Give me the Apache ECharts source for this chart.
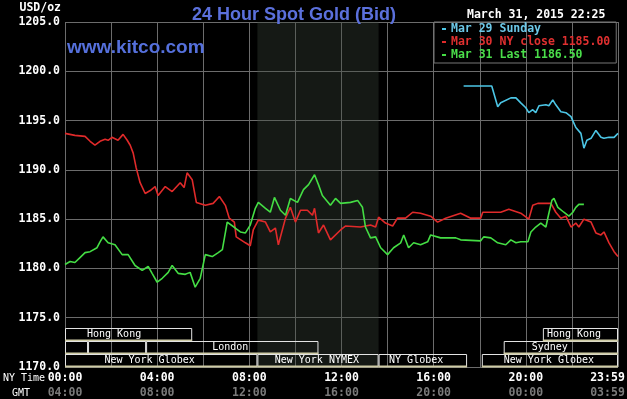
<!DOCTYPE html>
<html><head><meta charset="utf-8">
<script src="https://cdn.jsdelivr.net/npm/echarts@6/dist/echarts.min.js"></script>
<style>html,body{margin:0;padding:0;background:#000;}#c{width:627px;height:399px;}</style>
</head><body><div id="c"></div>
<script>
// Time in hours (NY time), values in USD/oz
const mar29T = [17.30,18.52,18.78,18.91,19.35,19.57,19.78,20.00,20.13,20.30,20.43,20.57,20.87,21.00,21.17,21.30,21.52,21.74,21.96,22.17,22.39,22.52,22.65,22.83,23.04,23.26,23.39,23.61,23.83,24.00];
const mar29V = [1198.5,1198.5,1196.4,1196.8,1197.3,1197.3,1196.8,1196.3,1195.8,1196.1,1195.8,1196.5,1196.6,1196.5,1197.1,1196.6,1195.9,1195.8,1195.4,1194.3,1193.7,1192.2,1193.0,1193.2,1194.0,1193.3,1193.2,1193.3,1193.3,1193.7];

const mar30T = [0,0.43,0.87,1.09,1.30,1.52,1.74,1.87,2.04,2.30,2.52,2.70,2.83,2.96,3.09,3.26,3.48,3.70,3.91,4.04,4.35,4.65,5.00,5.17,5.30,5.52,5.70,6.09,6.43,6.70,6.96,7.13,7.35,7.43,7.83,8.04,8.17,8.39,8.70,8.91,9.13,9.26,9.57,9.78,10.00,10.22,10.52,10.74,10.83,11.00,11.22,11.52,11.96,12.17,12.83,13.26,13.48,13.61,13.91,14.22,14.43,14.78,15.09,15.43,15.87,16.17,16.52,17.17,17.61,18.04,18.13,18.91,19.26,19.78,20.13,20.30,20.52,21.09,21.30,21.52,21.74,21.96,22.17,22.30,22.52,22.83,23.04,23.26,23.39,23.61,23.83,24.00];
const mar30V = [1193.7,1193.5,1193.4,1192.9,1192.5,1192.9,1193.1,1193.0,1193.3,1193.0,1193.6,1193.0,1192.5,1191.7,1190.2,1188.7,1187.6,1187.9,1188.3,1187.4,1188.3,1187.8,1188.7,1188.2,1189.7,1189.0,1186.7,1186.4,1186.6,1187.3,1186.4,1185.1,1184.7,1183.2,1182.6,1182.3,1183.9,1184.9,1184.7,1183.7,1184.1,1182.4,1185.1,1186.2,1184.7,1185.9,1185.9,1185.4,1186.1,1183.6,1184.4,1182.9,1183.9,1184.3,1184.2,1184.4,1184.2,1185.2,1184.6,1184.3,1185.1,1185.1,1185.7,1185.6,1185.3,1184.7,1185.1,1185.6,1185.1,1185.1,1185.7,1185.7,1186.0,1185.6,1185.0,1186.4,1186.6,1186.6,1185.7,1185.1,1185.3,1184.2,1184.6,1184.2,1185.0,1184.7,1183.6,1183.4,1183.7,1182.6,1181.7,1181.2];

const mar31T = [0,0.22,0.43,0.65,0.87,1.09,1.39,1.52,1.65,1.87,2.17,2.48,2.74,3.04,3.35,3.61,3.78,4.00,4.22,4.48,4.65,4.91,5.22,5.43,5.65,5.87,6.09,6.39,6.65,6.83,7.04,7.39,7.61,7.83,8.04,8.26,8.39,8.70,8.91,9.09,9.35,9.57,9.78,10.09,10.35,10.57,10.83,11.00,11.17,11.52,11.74,11.96,12.39,12.70,12.91,13.04,13.26,13.48,13.70,14.00,14.26,14.57,14.70,14.91,15.13,15.43,15.74,15.87,16.30,16.96,17.17,18.04,18.17,18.48,18.78,19.13,19.35,19.57,19.78,20.09,20.22,20.43,20.65,20.87,21.00,21.13,21.22,21.39,21.65,21.87,22.04,22.17,22.30,22.52];
const mar31V = [1180.4,1180.7,1180.6,1181.1,1181.6,1181.7,1182.1,1182.7,1183.2,1182.6,1182.4,1181.4,1181.4,1180.3,1179.8,1180.2,1179.5,1178.6,1179.0,1179.6,1180.3,1179.5,1179.4,1179.6,1178.1,1179.0,1181.4,1181.2,1181.6,1181.9,1184.7,1184.1,1183.7,1183.6,1184.4,1186.1,1186.7,1186.1,1185.7,1187.2,1185.9,1185.4,1187.1,1186.7,1188.0,1188.5,1189.5,1188.5,1187.4,1186.4,1187.1,1186.6,1186.7,1186.9,1186.2,1184.2,1183.1,1183.2,1182.1,1181.4,1182.1,1182.6,1183.4,1182.1,1182.6,1182.4,1182.7,1183.4,1183.1,1183.1,1182.9,1182.8,1183.2,1183.1,1182.6,1182.4,1182.9,1182.6,1182.7,1182.7,1183.7,1184.2,1184.6,1184.2,1185.6,1186.9,1187.1,1186.2,1185.7,1185.3,1185.7,1186.2,1186.5,1186.5];

const seriesNames = ['Mar 29 Sunday','Mar 30 NY close 1185.00','Mar 31 Last 1186.50'];
const nyTicks  = ['00:00','04:00','08:00','12:00','16:00','20:00','23:59'];
const gmtTicks = ['04:00','08:00','12:00','16:00','20:00','00:00','03:59'];

// trading sessions (hours NY time), row 0 = bottom
const sessionLabel = ['Hong Kong','','','London','New York Globex','New York NYMEX','NY Globex','New York Globex','Sydney','Hong Kong'];
const sessionStart = [0,0,1.0,3.52,0,8.35,13.61,18.09,19.04,20.74];
const sessionEnd   = [5.52,1.0,3.52,11.0,8.35,13.61,17.45,24,24,24];
const sessionRow   = [2,1,1,1,0,0,0,0,1,2];
const sessionTextAt= [2.13,0,0,7.17,3.67,10.93,15.24,21.0,21.04,22.09];
const nymexShade = [8.35, 13.61];

const MONO = '"DejaVu Sans Mono", monospace';
const zip = (t, v) => t.map((x, i) => [x, v[i]]);
const colors = ['#4cc6e6', '#e02a2a', '#44dd44'];
const legendColors = ['#6cc8e8', '#e03030', '#4ade4a'];

const chart = echarts.init(document.getElementById('c'), null, {renderer: 'canvas'});
chart.setOption({
  backgroundColor: '#000',
  animation: false,
  title: {
    text: '24 Hour Spot Gold (Bid)', left: 187, top: 1,
    textStyle: {color: '#5b70dc', fontFamily: '"Liberation Sans", Arial, sans-serif', fontWeight: 'bold', fontSize: 18}
  },
  legend: {
    orient: 'vertical', left: 434, top: 22, padding: [1, 6, 2, 8],
    itemGap: 1, itemWidth: 4, itemHeight: 2, icon: 'rect', selectedMode: false,
    borderColor: '#777', borderWidth: 1,
    textStyle: {fontFamily: MONO, fontWeight: 'bold', fontSize: 11.5, lineHeight: 12},
    data: seriesNames.map((n, i) => ({name: n, textStyle: {color: legendColors[i]}}))
  },
  grid: {left: 65, right: 9, top: 22, bottom: 32, containLabel: false, outerBoundsMode: 'none'},
  xAxis: {
    type: 'value', min: 0, max: 24, interval: 2,
    axisLine: {show: false}, axisTick: {show: false},
    splitLine: {show: true, lineStyle: {color: '#6c6c6c', width: 1}},
    axisLabel: {
      margin: 4, showMaxLabel: true, showMinLabel: true, hideOverlap: false,
      formatter: function (v) {
        if (v % 4 !== 0) return '';
        const i = v / 4;
        if (i === nyTicks.length - 1) return '{a2|' + nyTicks[i] + '}\n{b2|' + gmtTicks[i] + '}';
        return '{a|' + nyTicks[i] + '}\n{b|' + gmtTicks[i] + '}';
      },
      rich: {
        a: {color: '#fff', fontFamily: MONO, fontWeight: 'bold', fontSize: 11.5, lineHeight: 15},
        b: {color: '#7a7a7a', fontFamily: MONO, fontWeight: 'bold', fontSize: 11.5, lineHeight: 15},
        a2: {color: '#fff', fontFamily: MONO, fontWeight: 'bold', fontSize: 11.5, lineHeight: 15, padding: [0, 21, 0, 0]},
        b2: {color: '#7a7a7a', fontFamily: MONO, fontWeight: 'bold', fontSize: 11.5, lineHeight: 15, padding: [0, 21, 0, 0]}
      }
    }
  },
  yAxis: {
    type: 'value', min: 1170, max: 1205, interval: 5,
    axisLine: {show: false}, axisTick: {show: false},
    splitLine: {show: true, lineStyle: {color: '#6c6c6c', width: 1}},
    axisLabel: {color: '#fff', fontFamily: MONO, fontWeight: 'bold', fontSize: 11.5, margin: 5,
      formatter: v => v.toFixed(1)}
  },
  graphic: [
    {type: 'text', style: {text: 'USD/oz', x: 61, y: 8, fill: '#fff', font: 'bold 11.5px ' + MONO, textAlign: 'right', textVerticalAlign: 'middle'}},
    {type: 'text', style: {text: 'www.kitco.com', x: 67, y: 48, fill: '#5570dc', font: 'bold 19px "Liberation Sans", Arial, sans-serif', textAlign: 'left', textVerticalAlign: 'middle'}, z: 10},
    {type: 'text', style: {text: 'March 31, 2015 22:25', x: 467, y: 15, fill: '#fff', font: 'bold 11.5px ' + MONO, textAlign: 'left', textVerticalAlign: 'middle'}},
    {type: 'text', style: {text: 'NY Time', x: 3, y: 378, fill: '#fff', font: '10px ' + MONO, textAlign: 'left', textVerticalAlign: 'middle'}},
    {type: 'text', style: {text: 'GMT', x: 12, y: 393, fill: '#fff', font: '10px ' + MONO, textAlign: 'left', textVerticalAlign: 'middle'}}
  ],
  series: [
    {name: seriesNames[0], type: 'line', data: zip(mar29T, mar29V), showSymbol: false, color: colors[0],
     lineStyle: {width: 1.6, color: colors[0]},
     markArea: {silent: true, itemStyle: {color: 'rgba(60,72,60,0.35)'},
       data: [[{xAxis: nymexShade[0]}, {xAxis: nymexShade[1]}]]}},
    {name: seriesNames[1], type: 'line', data: zip(mar30T, mar30V), showSymbol: false, color: colors[1],
     lineStyle: {width: 1.6, color: colors[1]}},
    {name: seriesNames[2], type: 'line', data: zip(mar31T, mar31V), showSymbol: false, color: colors[2],
     lineStyle: {width: 1.6, color: colors[2]}},
    {
      type: 'custom', silent: true, z: 4,
      data: sessionStart.map((s, i) => [s, sessionEnd[i], sessionRow[i], sessionTextAt[i]]),
      encode: {x: [0, 1], y: 2},
      renderItem: function (params, api) {
        const x0 = api.coord([api.value(0), 1170])[0];
        const x1 = api.coord([api.value(1), 1170])[0];
        const base = api.coord([0, 1170])[1];
        const top = base - 13 * (api.value(2) + 1);
        const lx = api.coord([api.value(3), 1170])[0];
        const label = sessionLabel[params.dataIndex];
        const children = [
          {type: 'rect', shape: {x: x0 + 0.5, y: top + 0.5, width: x1 - x0 - 1, height: 12},
           style: {fill: null, stroke: '#e4e4e4', lineWidth: 1}},
          {type: 'line', shape: {x1: x0, y1: top + 12.5, x2: x1, y2: top + 12.5},
           style: {stroke: '#cfcca6', lineWidth: 2}}
        ];
        if (label) children.push({type: 'text', style: {text: label, x: lx, y: top + 6.5, fill: '#fff',
          font: '10px ' + MONO, textAlign: 'center', textVerticalAlign: 'middle'}});
        return {type: 'group', children: children};
      }
    }
  ]
});
</script>
</body></html>
